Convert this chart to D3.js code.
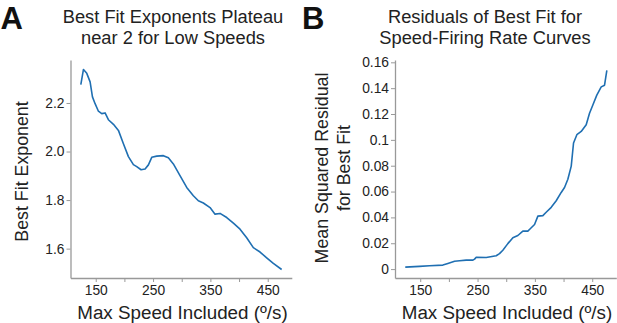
<!DOCTYPE html>
<html>
<head>
<meta charset="utf-8">
<style>
  body { margin: 0; background: #fff; }
  svg { display: block; font-family: "Liberation Sans", Arial, sans-serif; }
  .axis path, .axis line { stroke: #999; }
  .axis text { fill: #222; font-size: 13.8px; }
</style>
</head>
<body>
<div class="chart"></div>
<script src="https://d3js.org/d3.v7.min.js"></script>
<script>
  // 速度上限 (°/s)
  const speedA = [124, 128.6, 134.4, 140.2, 144.3, 148.9, 154.7, 160.5, 166.3, 172.1, 180.9, 189.6, 198.3, 207, 215.7, 221.5, 229.1, 236.1, 241.9, 247.7, 256.4, 268, 276.7, 285.4, 297, 308.7, 320.3, 329, 337.7, 349.4, 358.1, 366.8, 378.5, 390.1, 401.7, 413.3, 424.9, 436.6, 448.2, 459.8, 474.3]
  // 最佳擬合指數
  const exponent = [2.276, 2.338, 2.322, 2.287, 2.225, 2.197, 2.166, 2.156, 2.159, 2.131, 2.112, 2.087, 2.032, 1.979, 1.946, 1.938, 1.925, 1.928, 1.945, 1.976, 1.981, 1.983, 1.974, 1.949, 1.901, 1.852, 1.818, 1.797, 1.788, 1.769, 1.742, 1.745, 1.728, 1.705, 1.680, 1.645, 1.604, 1.586, 1.562, 1.539, 1.514]

  const speedB = [123.9, 148.8, 166.3, 189.5, 198.2, 209.9, 218.6, 230.2, 241.9, 244.8, 247.7, 265.1, 282.5, 288.3, 294.1, 302.8, 311.6, 320.3, 329, 337.7, 341.9, 349.4, 355.2, 363.9, 369.7, 378.5, 387.2, 395.9, 401.7, 407.5, 413.4, 417.4, 423.2, 430.8, 439.5, 445.3, 451.1, 458, 465.7, 471.5, 475.5]
  // 平均平方殘差
  const residual = [0.0015, 0.0021, 0.0026, 0.0031, 0.0044, 0.0061, 0.0064, 0.0069, 0.0069, 0.0077, 0.0092, 0.0090, 0.0103, 0.0120, 0.0146, 0.0197, 0.0243, 0.0260, 0.0294, 0.0294, 0.0312, 0.0345, 0.0410, 0.0414, 0.0440, 0.0478, 0.0529, 0.0593, 0.0631, 0.0695, 0.0797, 0.0976, 0.1040, 0.1065, 0.1117, 0.1206, 0.1270, 0.1346, 0.1410, 0.1423, 0.1538]

  const xTicks = [150, 200, 250, 300, 350, 400, 450]
  const yTicksA = [1.6, 1.8, 2.0, 2.2]
  const yTicksB = [0, 0.02, 0.04, 0.06, 0.08, 0.1, 0.12, 0.14, 0.16]

  const width = 617, height = 323
  const lineColor = '#1f6fb2'

  const svg = d3.select('.chart')
                .append('svg')
                .attr('width', width)
                .attr('height', height)

  const xFormat = d => (d % 100 === 50) ? d : ''

  // 畫一個面板
  function drawPanel(opt){
    const xScale = d3.scaleLinear()
                     .domain([106, 492])
                     .range([opt.left, opt.left + 221.3])
    const yScale = d3.scaleLinear()
                     .domain(opt.yDomain)
                     .range([278, 60])

    svg.append('g')
       .attr('class', 'axis')
       .attr('transform', `translate(0,${278})`)
       .call(d3.axisBottom(xScale).tickValues(xTicks).tickFormat(xFormat).tickSize(4).tickSizeOuter(0).tickPadding(3))

    svg.append('g')
       .attr('class', 'axis')
       .attr('transform', `translate(${opt.left},0)`)
       .call(d3.axisLeft(yScale).tickValues(opt.yTicks).tickFormat(opt.yFormat).tickSize(4).tickSizeOuter(0).tickPadding(2))

    svg.selectAll('.axis .domain').attr('stroke-width', 1.3)

    const pts = opt.xs.map((x, i) => [x, opt.ys[i]])
    svg.append('path')
       .datum(pts)
       .attr('fill', 'none')
       .attr('stroke', lineColor)
       .attr('stroke-width', 1.6)
       .attr('stroke-linejoin', 'round')
       .attr('d', d3.line()
                    .x(d => xScale(d[0]))
                    .y(d => yScale(d[1])))

    // 標題
    svg.append('text')
       .attr('x', opt.titleX).attr('y', 22.5)
       .attr('text-anchor', 'middle')
       .style('font-size', '18.3px').attr('fill', '#222')
       .text(opt.title[0])
    svg.append('text')
       .attr('x', opt.titleX).attr('y', 44)
       .attr('text-anchor', 'middle')
       .style('font-size', '18.3px').attr('fill', '#222')
       .text(opt.title[1])

    // X 軸標籤
    svg.append('text')
       .attr('x', opt.left + 112).attr('y', 318.5)
       .attr('text-anchor', 'middle')
       .style('font-size', '18.8px').attr('fill', '#222')
       .text('Max Speed Included (º/s)')

    // Y 軸標籤
    opt.yLabel.forEach((t, i) => {
      svg.append('text')
         .attr('transform', `translate(${opt.yLabelX[i]},${opt.yLabelY}) rotate(-90)`)
         .attr('text-anchor', 'middle')
         .style('font-size', '17.8px').attr('fill', '#222')
         .text(t)
    })

    // 面板字母
    svg.append('text')
       .attr('x', opt.letterX).attr('y', 28.5)
       .style('font-size', '31px').style('font-weight', 'bold').attr('fill', '#111')
       .text(opt.letter)
  }

  drawPanel({
    left: 70.5,
    xs: speedA, ys: exponent,
    yDomain: [1.479, 2.377],
    yTicks: yTicksA,
    yFormat: d3.format('.1f'),
    title: ['Best Fit Exponents Plateau', 'near 2 for Low Speeds'],
    titleX: 173,
    yLabel: ['Best Fit Exponent'], yLabelX: [27.5], yLabelY: 171.5,
    letter: 'A', letterX: 0.5
  })

  drawPanel({
    left: 395,
    xs: speedB, ys: residual,
    yDomain: [-0.0069, 0.1618],
    yTicks: yTicksB,
    yFormat: d => String(+d.toFixed(2)),
    title: ['Residuals of Best Fit for', 'Speed-Firing Rate Curves'],
    titleX: 485,
    yLabel: ['Mean Squared Residual', 'for Best Fit'], yLabelX: [328, 349.5], yLabelY: 168,
    letter: 'B', letterX: 302
  })
</script>
</body>
</html>
